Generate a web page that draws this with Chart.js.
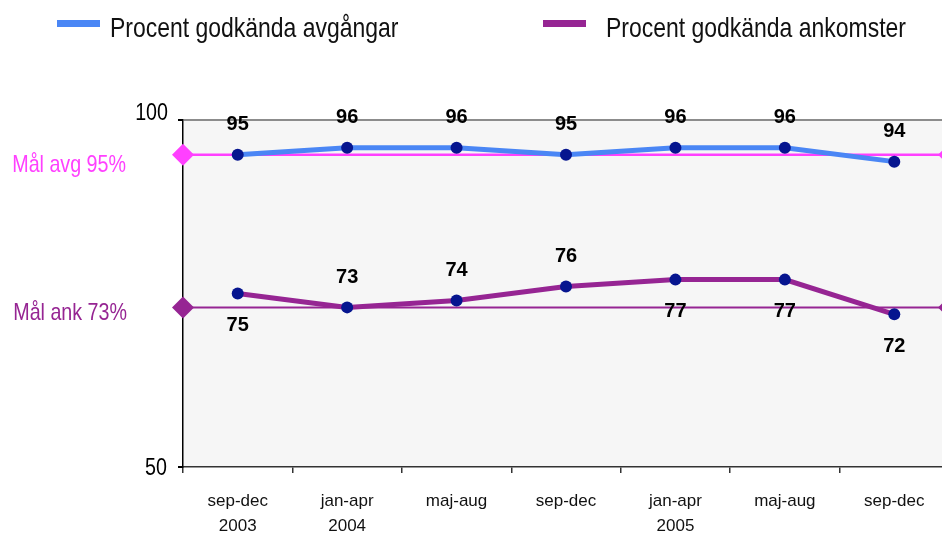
<!DOCTYPE html>
<html><head><meta charset="utf-8">
<script src="https://cdn.jsdelivr.net/npm/chart.js@4.4.1/dist/chart.umd.min.js"></script>
<style>
html,body{margin:0;padding:0;background:#fff;overflow:hidden;width:942px;height:534px}
#wrap{position:relative;width:960px;height:534px}
</style></head>
<body><div id="wrap"><canvas id="c"></canvas></div>
<script>
const categories = [['sep-dec','2003'],['jan-apr','2004'],'maj-aug','sep-dec',['jan-apr','2005'],'maj-aug','sep-dec'];
const avgangar = [95,96,96,95,96,96,94];
const ankomster = [75,73,74,76,77,77,72];
const goalAvg = 95;
const goalAnk = 73;
const yTicks = [50,100];
const seriesNames = ['Procent godkända avgångar','Procent godkända ankomster'];
const goalLabels = ['Mål avg 95%','Mål ank 73%'];
const ankLabelBelow = [true,false,false,false,true,true,true];

const SANS = "'Liberation Sans',Arial,sans-serif";
const BLUE = '#4a86f5', PURPLE = '#962593', MAGENTA = '#ff40ff', NAVY = '#06158f';

function diamond(ctx,x,y,hw,hh){
  ctx.beginPath();ctx.moveTo(x,y-hh);ctx.lineTo(x+hw,y);ctx.lineTo(x,y+hh);ctx.lineTo(x-hw,y);ctx.closePath();ctx.fill();
}
function narrowText(ctx,text,x,y,size,align,color){
  ctx.save();
  ctx.translate(x,y); ctx.scale(0.82,1);
  ctx.font = size+"px "+SANS; ctx.textAlign=align; ctx.textBaseline='alphabetic'; ctx.fillStyle=color;
  ctx.fillText(text,0,0);
  ctx.restore();
}

const custom = {
  id:'custom',
  beforeDraw(chart){
    const {ctx, chartArea:a} = chart;
    ctx.save(); ctx.fillStyle='#f6f6f6';
    ctx.fillRect(a.left,a.top,a.right-a.left,a.bottom-a.top); ctx.restore();
  },
  beforeDatasetsDraw(chart){
    const {ctx, chartArea:a, scales:{y}} = chart;
    ctx.save();
    [[goalAvg,MAGENTA,2.5],[goalAnk,PURPLE,2]].forEach(([g,col,w])=>{
      const py = y.getPixelForValue(g);
      ctx.strokeStyle=col; ctx.lineWidth=w;
      ctx.beginPath(); ctx.moveTo(a.left,py); ctx.lineTo(a.right,py); ctx.stroke();
      ctx.fillStyle=col;
      diamond(ctx,a.left,py,11,11);
      diamond(ctx,a.right,py,11,11);
    });
    ctx.restore();
  },
  afterDatasetsDraw(chart){
    const ctx = chart.ctx;
    ctx.save();
    ctx.font = "bold 20px "+SANS;
    ctx.fillStyle='#000'; ctx.textAlign='center'; ctx.textBaseline='middle';
    chart.getDatasetMeta(0).data.forEach((p,i)=>{ ctx.fillText(String(avgangar[i]), p.x, p.y-30); });
    chart.getDatasetMeta(1).data.forEach((p,i)=>{ ctx.fillText(String(ankomster[i]), p.x, p.y + (ankLabelBelow[i]?32:-30)); });
    ctx.restore();
  },
  afterDraw(chart){
    const {ctx, scales:{y}} = chart;
    ctx.save();
    // legend
    ctx.fillStyle=BLUE; ctx.fillRect(57,20,43,7);
    narrowText(ctx,seriesNames[0],110,37,28,'left','#111');
    ctx.fillStyle=PURPLE; ctx.fillRect(543,20,43,7);
    narrowText(ctx,seriesNames[1],606,37,28,'left','#111');
    // y labels
    narrowText(ctx,String(yTicks[1]),168,y.getPixelForValue(yTicks[1]),24,'right','#000');
    narrowText(ctx,String(yTicks[0]),167,y.getPixelForValue(yTicks[0])+8,24,'right','#000');
    // goal labels
    narrowText(ctx,goalLabels[0],126,y.getPixelForValue(goalAvg)+17,24,'right',MAGENTA);
    narrowText(ctx,goalLabels[1],127,y.getPixelForValue(goalAnk)+13,24,'right',PURPLE);
    ctx.restore();
  }
};

new Chart(document.getElementById('c'),{
  type:'line',
  data:{
    labels:categories,
    datasets:[
      {label:seriesNames[0],data:avgangar,borderColor:BLUE,borderWidth:5,pointRadius:6,pointBackgroundColor:NAVY,pointBorderWidth:0,tension:0,fill:false},
      {label:seriesNames[1],data:ankomster,borderColor:PURPLE,borderWidth:5,pointRadius:6,pointBackgroundColor:NAVY,pointBorderWidth:0,tension:0,fill:false}
    ]
  },
  options:{
    responsive:true, maintainAspectRatio:false, animation:false,
    layout:{padding:{top:120,right:11,left:0,bottom:0}},
    plugins:{legend:{display:false},tooltip:{enabled:false}},
    scales:{
      x:{
        offset:true,
        grid:{offset:true,drawOnChartArea:false,drawTicks:true,tickLength:6,tickColor:'#333',lineWidth:1.5},
        border:{color:'#333',width:1.5},
        ticks:{font:{family:SANS,size:17,lineHeight:1.45},color:'#111',padding:16,maxRotation:0,autoSkip:false},
        afterFit(s){s.height=67;}
      },
      y:{
        min:50,max:100,
        afterBuildTicks(s){s.ticks=yTicks.map(v=>({value:v}));},
        ticks:{display:false},
        grid:{color:c=>(c.tick&&c.tick.value===100)?'#8c8c8c':'rgba(0,0,0,0)',lineWidth:2,drawTicks:true,tickLength:5,tickColor:'#000'},
        border:{color:'#000',width:1.5},
        afterFit(s){s.width=183;}
      }
    }
  },
  plugins:[custom]
});
</script>
</body></html>
